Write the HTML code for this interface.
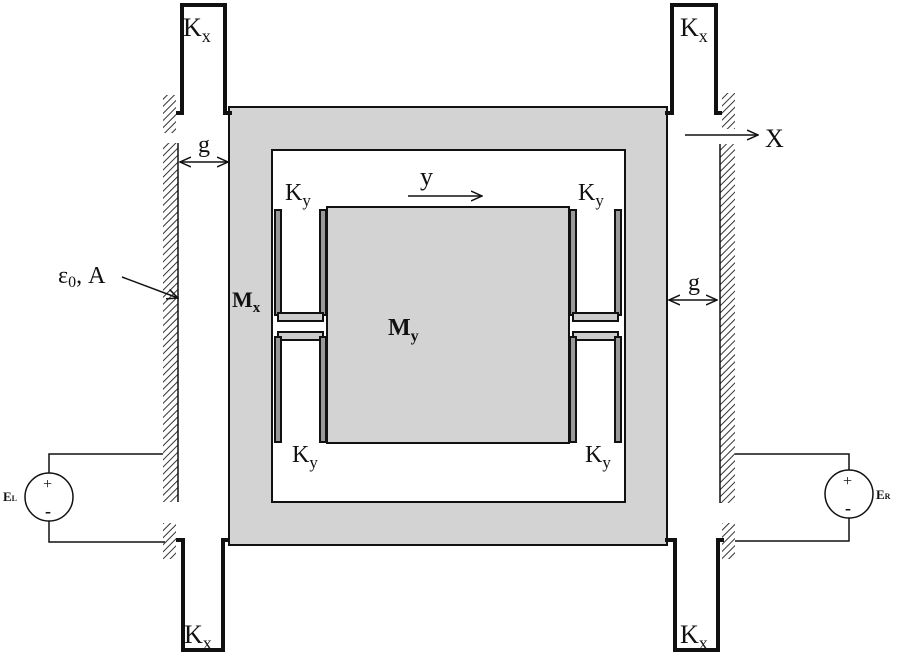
<!DOCTYPE html>
<html><head><style>body{margin:0;background:#fff}svg{display:block}text{font-family:"Liberation Serif",serif;fill:#111}</style></head><body>
<svg width="900" height="655" viewBox="0 0 900 655" xmlns="http://www.w3.org/2000/svg">
<defs>
<pattern id="h" width="5" height="5" patternUnits="userSpaceOnUse" patternTransform="rotate(45)"><rect width="5" height="5" fill="#fff"/><line x1="0" y1="0" x2="0" y2="5" stroke="#333" stroke-width="2"/></pattern>
<marker id="a" markerWidth="12" markerHeight="12" refX="11" refY="6" orient="auto-start-reverse" markerUnits="userSpaceOnUse"><path d="M0,1 L11,6 L0,11" fill="none" stroke="#111" stroke-width="1.5"/></marker>
</defs>
<rect x="229" y="107" width="438" height="438" fill="#d3d3d3" stroke="#111" stroke-width="2"/>
<rect x="272" y="150" width="353" height="352" fill="#fff" stroke="#111" stroke-width="2"/>
<rect x="327" y="207" width="242" height="236" fill="#d3d3d3" stroke="#111" stroke-width="2"/>
<g fill="url(#h)">
<rect x="163" y="95" width="13" height="38"/><rect x="163" y="143" width="15" height="359"/><rect x="163" y="523" width="13" height="36"/>
<rect x="722" y="93" width="13" height="36"/><rect x="720" y="144" width="15" height="359"/><rect x="722" y="523" width="13" height="36"/>
</g>
<g stroke="#111" stroke-width="1.5"><line x1="178" y1="143" x2="178" y2="502"/><line x1="720" y1="144" x2="720" y2="503"/></g>
<g fill="none" stroke="#111" stroke-width="4">
<path d="M176,113 H182 V5 H225 V113 H232"/>
<path d="M665,113 H672 V5 H716 V113 H722"/>
<path d="M176,540 H183 V650 H223 V540 H230"/>
<path d="M665,540 H675 V650 H718 V540 H724"/>
</g>
<g fill="#999" stroke="#111" stroke-width="2">
<rect x="275" y="210" width="6" height="105"/><rect x="320" y="210" width="6" height="105"/>
<rect x="278" y="313" width="45" height="8" fill="#ccc"/><rect x="278" y="332" width="45" height="8" fill="#ccc"/>
<rect x="275" y="337" width="6" height="105"/><rect x="320" y="337" width="6" height="105"/>
<rect x="570" y="210" width="6" height="105"/><rect x="615" y="210" width="6" height="105"/>
<rect x="573" y="313" width="45" height="8" fill="#ccc"/><rect x="573" y="332" width="45" height="8" fill="#ccc"/>
<rect x="570" y="337" width="6" height="105"/><rect x="615" y="337" width="6" height="105"/>
</g>
<g fill="none" stroke="#111" stroke-width="1.5">
<path d="M163,454 H49 V473"/><path d="M165,542 H49 V521"/><circle cx="49" cy="497" r="24"/>
<path d="M735,454 H849 V470"/><path d="M735,541 H849 V518"/><circle cx="849" cy="494" r="24"/>
</g>
<text x="43" y="489" font-size="16">+</text><text x="45" y="517" font-size="18" font-weight="bold">-</text>
<text x="843" y="486" font-size="16">+</text><text x="845" y="514" font-size="18" font-weight="bold">-</text>
<text x="3" y="501" font-size="13" font-weight="bold">E<tspan font-size="8">L</tspan></text>
<text x="876" y="499" font-size="13" font-weight="bold">E<tspan font-size="8">R</tspan></text>
<g stroke="#111" stroke-width="1.5" fill="none">
<line x1="180" y1="162" x2="228" y2="162" marker-end="url(#a)" marker-start="url(#a)"/>
<line x1="669" y1="300" x2="717" y2="300" marker-end="url(#a)" marker-start="url(#a)"/>
<line x1="685" y1="135" x2="758" y2="135" marker-end="url(#a)"/>
<line x1="408" y1="196" x2="482" y2="196" marker-end="url(#a)"/>
<line x1="122" y1="277" x2="178" y2="298" marker-end="url(#a)"/>
</g>
<text x="198" y="152" font-size="24">g</text>
<text x="688" y="290" font-size="24">g</text>
<text x="765" y="147" font-size="26">X</text>
<text x="420" y="185" font-size="26">y</text>
<text x="58" y="283" font-size="24">ε<tspan font-size="16" dy="4">0</tspan><tspan dy="-4">, A</tspan></text>
<text x="183" y="36" font-size="26">K<tspan font-size="18" dy="6">x</tspan></text>
<text x="680" y="36" font-size="26">K<tspan font-size="18" dy="6">x</tspan></text>
<text x="184" y="643" font-size="26">K<tspan font-size="18" dy="6">x</tspan></text>
<text x="680" y="643" font-size="26">K<tspan font-size="18" dy="6">x</tspan></text>
<text x="285" y="200" font-size="24">K<tspan font-size="17" dy="6">y</tspan></text>
<text x="578" y="200" font-size="24">K<tspan font-size="17" dy="6">y</tspan></text>
<text x="292" y="462" font-size="24">K<tspan font-size="17" dy="6">y</tspan></text>
<text x="585" y="462" font-size="24">K<tspan font-size="17" dy="6">y</tspan></text>
<text x="232" y="307" font-size="22" font-weight="bold">M<tspan font-size="15" dy="5">x</tspan></text>
<text x="388" y="335" font-size="24" font-weight="bold">M<tspan font-size="16" dy="6">y</tspan></text>
</svg>
</body></html>
